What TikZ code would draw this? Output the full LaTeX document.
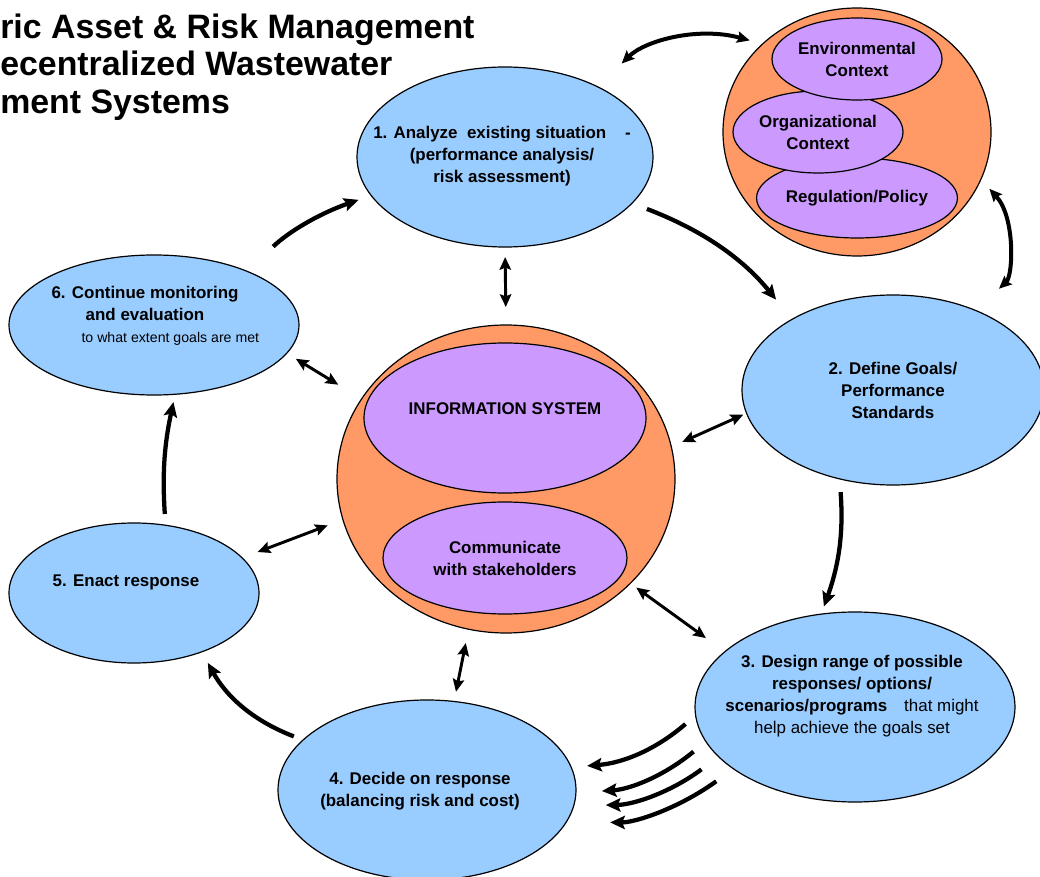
\documentclass[tikz,border=0pt]{standalone}
\usepackage{fontspec}
\setmainfont{Liberation Sans}
\usetikzlibrary{shapes.geometric,arrows.meta}

\definecolor{skyblue}{HTML}{99CCFF}
\definecolor{peach}{HTML}{FF9966}
\definecolor{lilac}{HTML}{CC99FF}

\begin{document}
\begin{tikzpicture}[x=0.75pt,y=-0.75pt,
	stepbox/.style={ellipse,draw,line width=0.9pt,fill=skyblue,inner sep=0pt,outer sep=0pt},
	shell/.style={stepbox,fill=peach},
	part/.style={stepbox,fill=lilac,align=center,font=\bfseries\fontsize{12.7}{16.5}\selectfont},
	lbl/.style={align=center,inner sep=0pt,font=\bfseries\fontsize{12.7}{16.5}\selectfont},
	flow/.style={line width=3.2pt,-{Stealth[length=11pt,width=10pt,inset=2pt]}},
	link/.style={line width=2.2pt,{Stealth[length=9.5pt,width=8.5pt,inset=1.5pt]}-{Stealth[length=9.5pt,width=8.5pt,inset=1.5pt]}}]
	\useasboundingbox (0,0) rectangle (1040,877);

	\node[anchor=west,align=left,inner sep=0pt,font=\bfseries\fontsize{25.4}{28.2}\selectfont] at (0,67) (title) {ric Asset \& Risk Management\\ecentralized Wastewater\\ment Systems};

	\node[shell,minimum width=201pt,minimum height=186pt] at (857,132) (ctx) {};
	\node[part,minimum width=142.5pt,minimum height=60pt] at (857,198) (reg) {Regulation/Policy};
	\node[part,minimum width=127.5pt,minimum height=61.5pt] at (818,132) (org) {Organizational\\Context};
	\node[part,minimum width=127.5pt,minimum height=61.5pt] at (857,59) (env) {Environmental\\Context};

	\node[shell,minimum width=253.5pt,minimum height=231pt] at (506,479) (hub) {};
	\node[part,minimum width=211.5pt,minimum height=112.5pt,text depth=13.5pt] at (505,418) (info) {INFORMATION SYSTEM};
	\node[part,minimum width=183pt,minimum height=84pt] at (505,558) (comm) {Communicate\\with stakeholders};

	\node[stepbox,minimum width=222pt,minimum height=135pt] at (505,157) (s1) {};
	\node[stepbox,minimum width=226.5pt,minimum height=142.5pt] at (893,390) (s2) {};
	\node[stepbox,minimum width=240pt,minimum height=142.5pt] at (855,707) (s3) {};
	\node[stepbox,minimum width=223.5pt,minimum height=135pt] at (427,790) (s4) {};
	\node[stepbox,minimum width=187.5pt,minimum height=105pt] at (134,593) (s5) {};
	\node[stepbox,minimum width=217.5pt,minimum height=105pt] at (154,325) (s6) {};

	\node[lbl] at (502,156) (t1) {1. Analyze\ \ existing situation\ \ \ \ -\\(performance analysis/\\risk assessment)};
	\node[lbl] at (893,390) (t2) {2. Define Goals/\\Performance\\Standards};
	\node[lbl] at (852,696) (t3) {3. Design range of possible\\responses/ options/\\scenarios/programs\quad{\mdseries that might}\\{\mdseries help achieve the goals set}};
	\node[lbl] at (420,791) (t4) {4. Decide on response\\(balancing risk and cost)};
	\node[lbl] at (126,582) (t5) {5. Enact response};
	\node[lbl] at (145,316) (t6) {6. Continue monitoring\\and evaluation\\{\mdseries\fontsize{10.6}{14}\selectfont\hspace*{19pt}to what extent goals are met\hspace*{-19pt}}};

	% cycle
	\path[flow] (s6.30) edge[bend left=12,shorten <=27pt,shorten >=10pt] (s1.196);
	\path[flow] (s1.-20) edge[bend left=15,shorten <=12pt,shorten >=19pt] (s2.145);
	\path[flow] (s2.-121) edge[bend left=12,shorten <=10pt,shorten >=6pt] (s3.110);
	\path[flow] (s3.183) edge[bend left=18,shorten <=10pt,shorten >=12pt] (s4.9);
	\path[flow] (s3.193) edge[bend left=18,shorten <=12pt,shorten >=19.5pt] (s4.-1);
	\path[flow] (s3.200) edge[bend left=18,shorten <=16pt,shorten >=24pt] (s4.-6);
	\path[flow] (s3.207) edge[bend left=18,shorten <=16pt,shorten >=33pt] (s4.-13);
	\path[flow] (s4.158) edge[bend left=20,shorten <=7.5pt,shorten >=9.5pt] (s5.-41);
	\path[flow] (s5.65) edge[bend left=8,shorten <=8.5pt,shorten >=6pt] (s6.-73);

	% links
	\path[link,line width=3pt] (s1.37) edge[bend left=30,shorten <=25pt,shorten >=10pt] (ctx.137);
	\path[link,line width=3pt] (ctx.-21) edge[bend left=45,shorten <=9.5pt,shorten >=24pt] (s2.44);
	\path[link] (s1.-90) edge[shorten <=7.5pt,shorten >=13.5pt] (hub.90);
	\path[link] (s6.-12) edge[shorten <=8pt,shorten >=20.5pt] (hub.151);
	\path[link] (hub.11) edge[shorten <=9pt,shorten >=2.7pt] (s2.189);
	\path[link] (s5.18) edge[shorten <=12.4pt,shorten >=12.2pt] (hub.194);
	\path[link] (hub.-40) edge[shorten <=5.5pt,shorten >=17.5pt] (s3.157);
	\path[link] (hub.-104) edge[shorten <=10.6pt,shorten >=7.4pt] (s4.73);
\end{tikzpicture}
\end{document}
